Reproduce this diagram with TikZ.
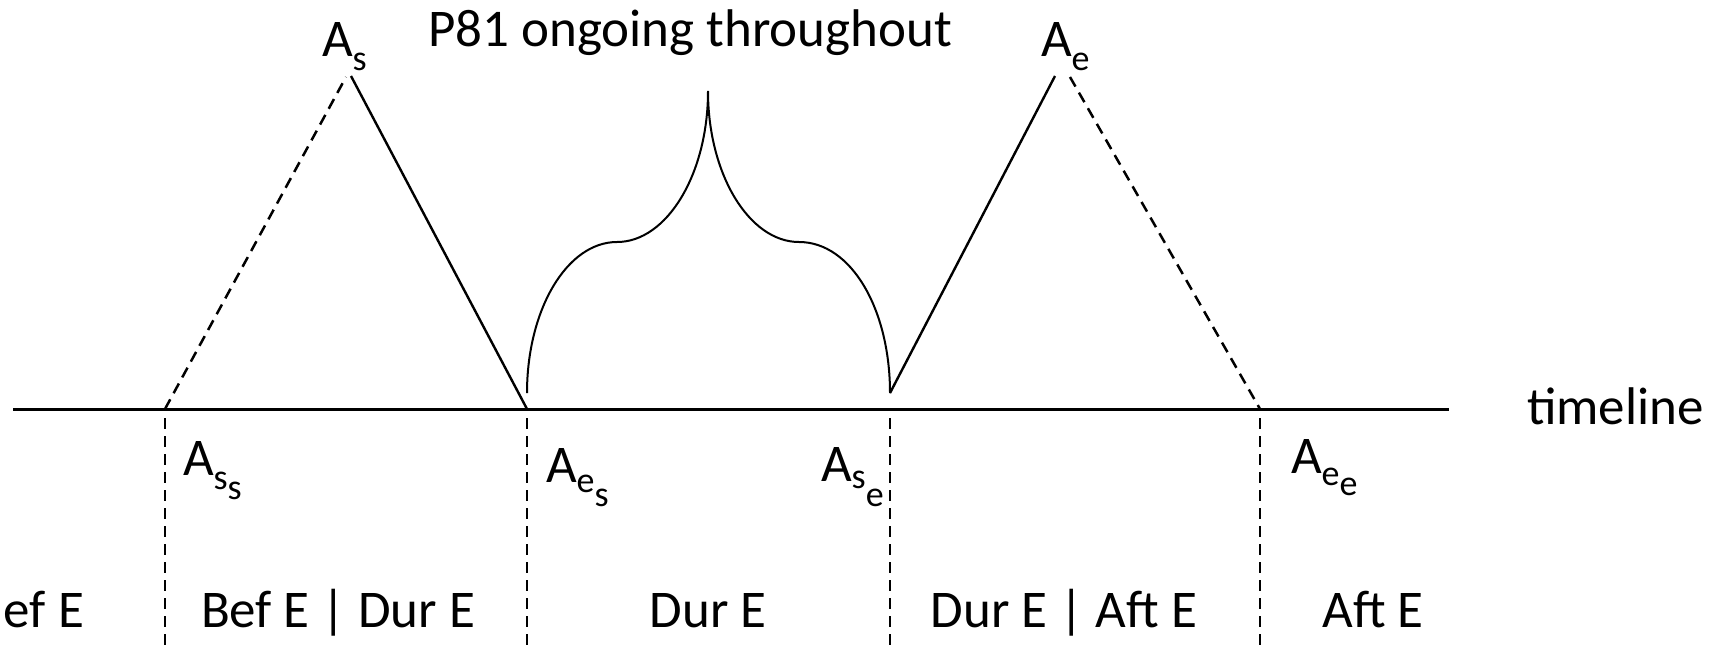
\documentclass[tikz,border=0pt]{standalone}
\usepackage{fontspec}
\setmainfont{Carlito}
\newcommand{\sbx}[2][10pt]{\raisebox{-#1}{\fontsize{36}{40}\selectfont #2}}
\tikzset{
  lbl/.style={inner sep=0pt, outer sep=0pt, anchor=base west, font=\fontsize{53}{60}\selectfont},
  lblc/.style={lbl, anchor=base},
  axis/.style={line width=3pt},
  solidl/.style={line width=2.4pt},
  dashl/.style={line width=2.5pt, dash pattern=on 11pt off 7pt},
}
\begin{document}
\begin{tikzpicture}[x=1pt,y=-1pt]
\useasboundingbox (0,0) rectangle (1711,649);
% key points
\coordinate (tl0) at (13,409);
\coordinate (tl1) at (1449,409);
\coordinate (ss) at (165,409);
\coordinate (es) at (527,409);
\coordinate (se) at (890,409);
\coordinate (ee) at (1260,409);
\coordinate (pks) at (351,76);
\coordinate (pksd) at (346,77);
\coordinate (pke) at (1055,76);
\coordinate (pked) at (1070,77);
\coordinate (cs) at (527,393);
\coordinate (ce) at (890,393);
\coordinate (shl) at (617,242);
\coordinate (shr) at (799,242);
\coordinate (pk) at (708,91);
\coordinate (ssb) at (165,649);
\coordinate (esb) at (527,649);
\coordinate (seb) at (890,649);
\coordinate (eeb) at (1260,649);
\coordinate (sst) at (165,418);
\coordinate (est) at (527,418);
\coordinate (set) at (890,418);
\coordinate (eet) at (1260,418);
% timeline
\draw[axis] (tl0) -- (tl1);
% triangles
\draw[dashl] (ss) -- (pksd);
\draw[solidl] (pks) -- (es);
\draw[solidl] (ce) -- (pke);
\draw[dashl] (pked) -- (ee);
% ongoing curve
\draw[line width=2pt] (cs) .. controls (527,309.6) and (567,242) .. (shl)
  .. controls (666.7,242) and (708,174.4) .. (pk)
  .. controls (708,174.4) and (749.3,242) .. (shr)
  .. controls (851.5,242) and (890,309.6) .. (ce);
% vertical dashed
\draw[dashl] (sst) -- (ssb);
\draw[dashl] (est) -- (esb);
\draw[dashl] (set) -- (seb);
\draw[dashl] (eet) -- (eeb);
% labels
\node[lbl] (las) at (322,56) {A\sbx[14pt]{s}};
\node[lbl] (lae) at (1041,56) {A\sbx[14pt]{e}};
\node[lblc] (lp81) at (690,46) {P81 ongoing throughout};
\node[lbl] (ltl) at (1527,424) {timeline};
\node[lbl] (lass) at (183,475) {A\sbx[14pt]{s\sbx[10pt]{s}}};
\node[lbl] (laes) at (546,482) {A\sbx[10pt]{e\sbx[14pt]{s}}};
\node[lbl] (lase) at (821,481) {A\sbx[7pt]{s\sbx[18pt]{e}}};
\node[lbl] (laee) at (1291,473) {A\sbx[12pt]{e\sbx[10pt]{e}}};
\node[lbl] (b1) at (4,627) {ef E};
\node[lblc] (b2) at (338,627) {Bef E | Dur E};
\node[lblc] (b3) at (708,627) {Dur E};
\node[lblc] (b4) at (1064,627) {Dur E | Aft E};
\node[lblc] (b5) at (1373,627) {Aft E};
\end{tikzpicture}
\end{document}
